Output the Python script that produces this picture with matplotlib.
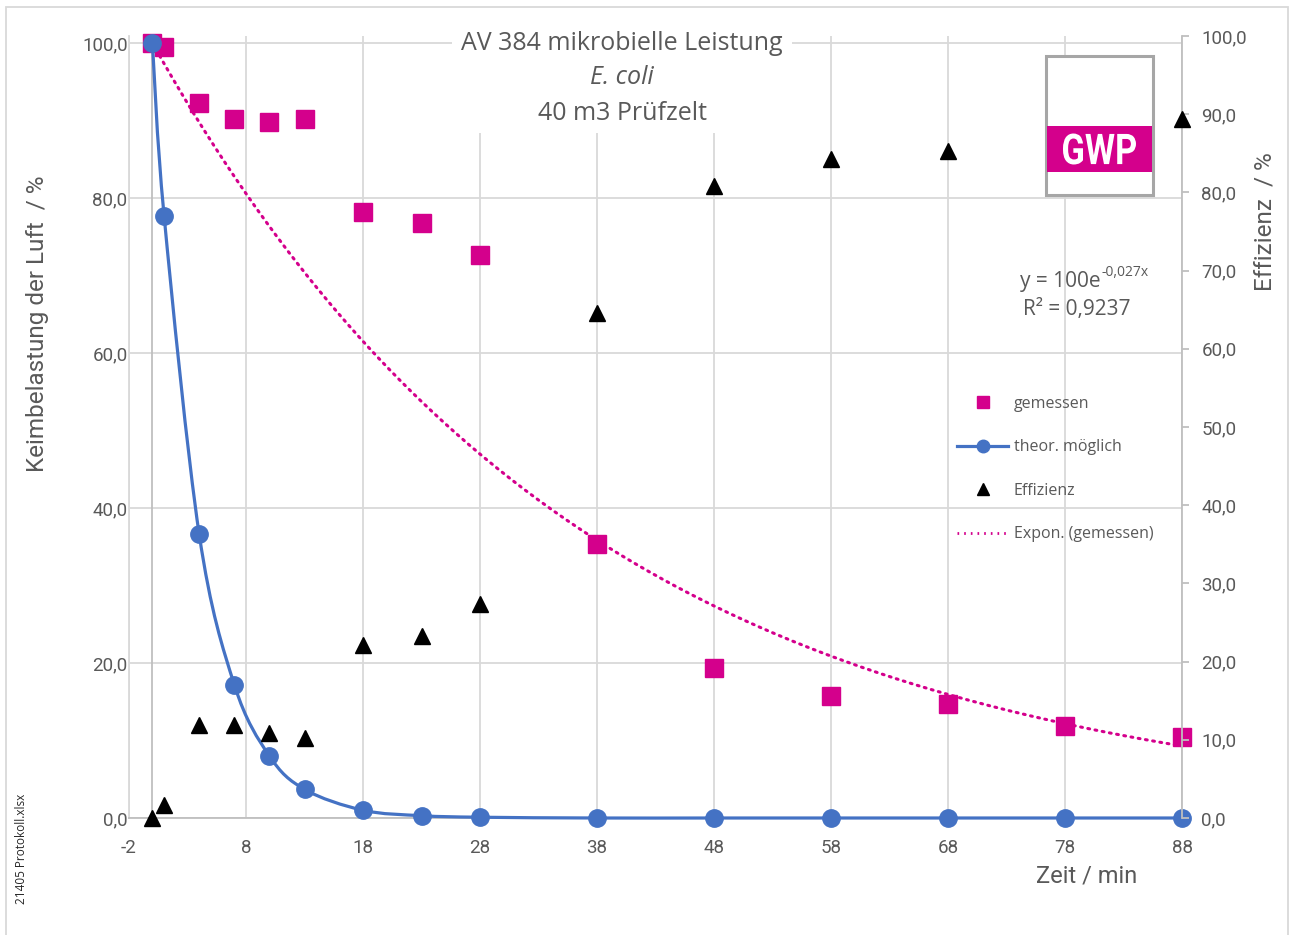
import numpy as np
import matplotlib.pyplot as plt
from matplotlib.path import Path
from matplotlib.patches import PathPatch, Rectangle
from matplotlib.lines import Line2D
from matplotlib.textpath import TextPath
from matplotlib.font_manager import FontProperties
from matplotlib.transforms import Affine2D
from matplotlib.ticker import FuncFormatter, FixedLocator

# Zeit / min
time = [0, 1, 4, 7, 10, 13, 18, 23, 28, 38, 48, 58, 68, 78, 88]
# Keimbelastung gemessen / %
gemessen = [100, 99.5, 92.3, 90.2, 89.8, 90.2, 78.2, 76.8, 72.6, 35.4, 19.3, 15.7, 14.7, 11.9, 10.5]
# theoretisch moeglich / %
theor = [100, 77.7, 36.6, 17.2, 8.0, 3.7, 1.0, 0.3, 0.1, 0, 0, 0, 0, 0, 0]
# Effizienz / % (rechte Achse)
effizienz = [0, 1.7, 11.9, 11.9, 10.9, 10.2, 22.1, 23.3, 27.4, 64.6, 80.8, 84.3, 85.3, 88.1, 89.4]

x_ticks = [-2, 8, 18, 28, 38, 48, 58, 68, 78, 88]
left_ticks = [0, 20, 40, 60, 80, 100]
right_ticks = [0, 10, 20, 30, 40, 50, 60, 70, 80, 90, 100]

MAGENTA = '#D4008C'
BLUE = '#4472C4'
GRID = '#D9D9D9'
AXIS = '#BFBFBF'
TXT = '#595959'

W, H = 1290, 935


def fx(px):
    return px / W


def fy(py):
    return 1 - py / H


def smooth_path(x, y):
    # Excel-style smoothed line: Catmull-Rom as cubic Bezier segments
    pts = np.column_stack([x, y]).astype(float)
    n = len(pts)
    verts = [pts[0]]
    codes = [Path.MOVETO]
    for i in range(n - 1):
        p0 = pts[max(i - 1, 0)]
        p1 = pts[i]
        p2 = pts[i + 1]
        p3 = pts[min(i + 2, n - 1)]
        verts += [p1 + (p2 - p0) / 6, p2 - (p3 - p1) / 6, p2]
        codes += [Path.CURVE4] * 3
    return Path(verts, codes)


fig = plt.figure(figsize=(12.9, 9.35), dpi=100)
ax = fig.add_axes([fx(129), fy(818), fx(1182) - fx(129), fy(36) - fy(818)])
ax2 = ax.twinx()

ax.set_xlim(-2, 88)
ax.set_ylim(0, 100 * 782 / 775)
ax2.set_ylim(0, 100)

ax.xaxis.set_major_locator(FixedLocator(x_ticks))
ax.yaxis.set_major_locator(FixedLocator(left_ticks))
ax2.yaxis.set_major_locator(FixedLocator(right_ticks))

comma = FuncFormatter(lambda v, p: f"{v:.1f}".replace('.', ','))
ax.yaxis.set_major_formatter(comma)
ax2.yaxis.set_major_formatter(comma)
ax.xaxis.set_major_formatter(FuncFormatter(lambda v, p: str(int(round(v)))))

ax.set_axisbelow(True)
ax.grid(True, color=GRID, lw=1.3)
ax.axvline(0, color=AXIS, lw=1.3, zorder=1)

for s in ['top', 'right']:
    ax.spines[s].set_visible(False)
ax.spines['left'].set_color(GRID)
ax.spines['left'].set_linewidth(1.3)
ax.spines['bottom'].set_color(AXIS)
ax.spines['bottom'].set_linewidth(1.3)
for s in ['top', 'left', 'bottom']:
    ax2.spines[s].set_visible(False)
ax2.spines['right'].set_color(AXIS)
ax2.spines['right'].set_linewidth(1.3)

ax.tick_params(axis='x', length=0, pad=15, labelcolor=TXT)
ax.tick_params(axis='y', length=0, pad=1, labelcolor=TXT)
ax2.tick_params(axis='y', length=5, width=1.3, color=AXIS, pad=9, labelcolor=TXT)
for lab in ax.get_xticklabels() + ax.get_yticklabels() + ax2.get_yticklabels():
    lab.set_fontfamily('Roboto')
    lab.set_fontsize(13.5)

# trend line (exponential fit with intercept 100)
xs = np.array(time, dtype=float)
k = np.sum(xs * np.log(np.array(gemessen) / 100)) / np.sum(xs ** 2)
xt = np.linspace(0, 88, 300)
ax.plot(xt, 100 * np.exp(k * xt), color=MAGENTA, lw=2.2, ls=(0, (0.6, 1.8)),
        dash_capstyle='round', zorder=3, clip_on=False)

ax.plot(time, gemessen, ls='none', marker='s', ms=13, color=MAGENTA, zorder=4, clip_on=False)
ax.add_patch(PathPatch(smooth_path(time, theor), fill=False, edgecolor=BLUE, lw=2.3,
                       zorder=5, clip_on=False))
ax.plot(time, theor, ls='none', marker='o', ms=12.5, color=BLUE, zorder=6, clip_on=False)
ax2.plot(time, effizienz, ls='none', marker='^', ms=12, color='black', zorder=4, clip_on=False)

# legend
handles = [
    Line2D([], [], ls='none', marker='s', ms=9, color=MAGENTA),
    Line2D([], [], color=BLUE, lw=2.3, marker='o', ms=9),
    Line2D([], [], ls='none', marker='^', ms=9, color='black'),
    Line2D([], [], color=MAGENTA, lw=2.0, ls=(0, (0.6, 1.8))),
]
labels = ['gemessen', 'theor. möglich', 'Effizienz', 'Expon. (gemessen)']
fig.legend(handles, labels, loc='upper left', bbox_to_anchor=(fx(957), fy(396)),
           frameon=False, borderpad=0, borderaxespad=0, handlelength=3.2,
           handletextpad=0.35, labelspacing=1.72, numpoints=1,
           prop=dict(family='Open Sans', size=11.5), labelcolor=TXT)

# outer frame
fig.add_artist(Rectangle((fx(6), fy(945)), fx(1288) - fx(6), fy(7) - fy(945),
                         transform=fig.transFigure, fill=False, edgecolor=GRID, lw=1.3, zorder=0))

# title with white box
fig.add_artist(Rectangle((fx(452), fy(133)), fx(792) - fx(452), fy(28) - fy(133),
                         transform=fig.transFigure, facecolor='white', edgecolor='none', zorder=1))
fig.text(fx(622), fy(44), 'AV 384 mikrobielle Leistung', ha='center', va='center',
         family='Open Sans', size=18, color=TXT, zorder=2)
fig.text(fx(622), fy(78), 'E. coli', ha='center', va='center', family='Open Sans',
         style='italic', size=18, color=TXT, zorder=2)
fig.text(fx(622), fy(113), '40 m3 Prüfzelt', ha='center', va='center',
         family='Open Sans', size=18, color=TXT, zorder=2)

# logo
fig.add_artist(Rectangle((fx(1046), fy(195)), fx(1153) - fx(1046), fy(56) - fy(195),
                         transform=fig.transFigure, facecolor='white', edgecolor='#A6A6A6',
                         lw=2.2, zorder=3))
fig.add_artist(Rectangle((fx(1047), fy(172)), fx(1152) - fx(1047), fy(126) - fy(172),
                         transform=fig.transFigure, facecolor=MAGENTA, edgecolor='none', zorder=4))
tp = TextPath((0, 0), 'GWP', size=1, prop=FontProperties(family='Roboto', weight='bold'))
ext = tp.get_extents()
sx = 73 / ext.width
sy = 31 / ext.height
logo_tf = (Affine2D().translate(-ext.x0 - ext.width / 2, -ext.y0 - ext.height / 2)
           .scale(sx, sy).translate(1099.5, H - 149).scale(1 / W, 1 / H))
fig.add_artist(PathPatch(logo_tf.transform_path(tp), transform=fig.transFigure,
                         facecolor='white', edgecolor='none', zorder=5))

# equation
fig.text(fx(1101), fy(281), 'y = 100e', ha='right', va='center', family='Open Sans',
         size=15, color=TXT)
fig.text(fx(1101), fy(272), '-0,027x', ha='left', va='center', family='Open Sans',
         size=10, color=TXT)
fig.text(fx(1077), fy(309), 'R² = 0,9237', ha='center', va='center', family='Open Sans',
         size=15, color=TXT)

# axis titles
fig.text(fx(38), fy(324), 'Keimbelastung der Luft  / %', rotation=90, ha='center',
         va='center', family='Roboto', size=17.5, color=TXT)
fig.text(fx(1265), fy(222), 'Effizienz  / %', rotation=90, ha='center', va='center',
         family='Roboto', size=17.5, color=TXT)
fig.text(fx(1087), fy(876), 'Zeit / min', ha='center', va='center', family='Roboto',
         size=17, color=TXT)

fig.text(fx(22), fy(849), '21405 Protokoll.xlsx', rotation=90, ha='center', va='center',
         family='Open Sans', size=8.5, color='#262626')

fig.savefig('out.png', dpi=100)
